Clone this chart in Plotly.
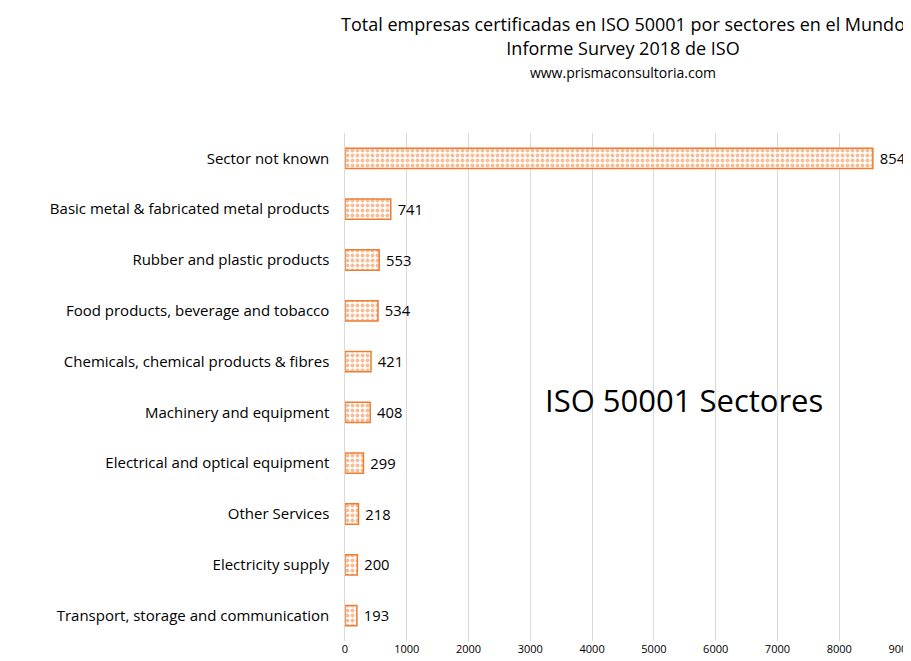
import plotly.graph_objects as go

sectors = ['Sector not known', 'Basic metal & fabricated metal products',
           'Rubber and plastic products', 'Food products, beverage and tobacco',
           'Chemicals, chemical products & fibres', 'Machinery and equipment',
           'Electrical and optical equipment', 'Other Services',
           'Electricity supply', 'Transport, storage and communication']
values = [8545, 741, 553, 534, 421, 408, 299, 218, 200, 193]
tick_vals = [0, 1000, 2000, 3000, 4000, 5000, 6000, 7000, 8000, 9000]

font = 'Open Sans, Calibri, sans-serif'

fig = go.Figure()
fig.add_trace(go.Bar(
    y=sectors, x=values, orientation='h', width=0.4,
    marker=dict(color='white', line=dict(color='#ED7D31', width=1.5),
                pattern=dict(shape='.', fgcolor='#ED7D31', bgcolor='white',
                             size=5, solidity=0.5)),
    text=values, texttemplate=' %{text}', textposition='outside', cliponaxis=False,
    textfont=dict(size=16, color='black', family=font),
))

fig.update_layout(
    width=911, height=661, showlegend=False,
    margin=dict(l=337, r=18, t=125, b=28, autoexpand=False),
    paper_bgcolor='white', plot_bgcolor='white',
    font=dict(family=font),
    title=dict(text='Total empresas certificadas en ISO 50001 por sectores en el Mundo<br>'
                    'Informe Survey 2018 de ISO<br><span style="font-size:14px">www.prismaconsultoria.com</span>',
               x=0.5, xanchor='center', xref='paper', y=0.965, yanchor='top',
               font=dict(size=18, color='black')),
    annotations=[dict(text='ISO 50001 Sectores', x=0.61, y=0.475, xref='paper', yref='paper',
                      showarrow=False, font=dict(size=31, color='black'))],
)
fig.update_xaxes(range=[0, 9000], tickvals=tick_vals, showgrid=True, gridcolor='#D9D9D9',
                 zeroline=False, tickfont=dict(size=11, color='black'), automargin=False)
fig.update_yaxes(autorange='reversed', tickfont=dict(size=15, color='black'), ticksuffix='   ',
                 showline=True, linecolor='#D9D9D9', automargin=False)

fig.write_html('out.html')
